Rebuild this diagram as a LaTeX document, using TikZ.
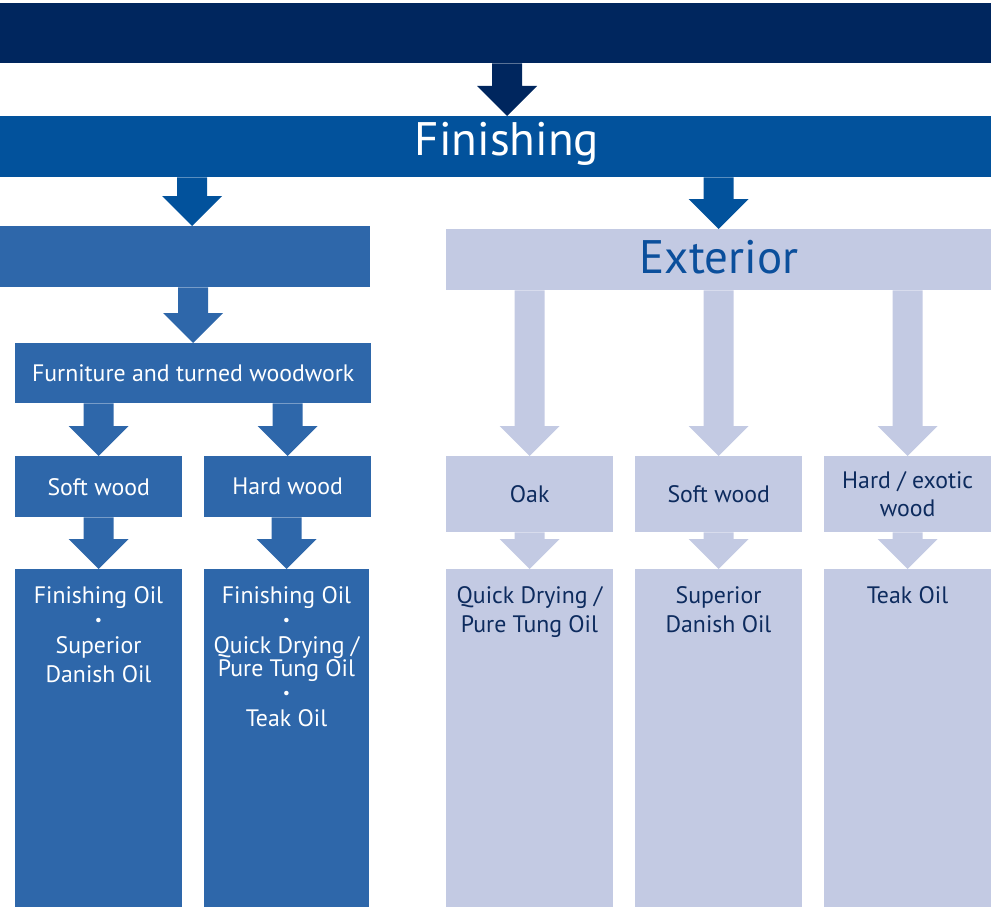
\documentclass[tikz,border=0pt]{standalone}
\usepackage{fontspec}
\setmainfont{PT Sans}
\usetikzlibrary{calc}
\definecolor{navy}{HTML}{00265E}
\definecolor{finblue}{HTML}{02529C}
\definecolor{midblue}{HTML}{2E67AA}
\definecolor{light}{HTML}{C3CAE3}
\definecolor{exttext}{HTML}{0B4F9C}
\definecolor{darktext}{HTML}{0D2B5E}
\tikzset{
  box/.style={rectangle, inner sep=0pt, anchor=north west, align=center, font=\fontsize{23.8}{28}\selectfont},
  leftbox/.style={box, fill=midblue, text=white},
  rightbox/.style={box, fill=light, text=darktext},
  oiltext/.style={anchor=base, inner sep=0pt, font=\fontsize{23.8}{24}\selectfont},
  bul/.style={anchor=center, inner sep=0pt, font=\fontsize{16}{16}\selectfont},
  bigtext/.style={anchor=base, inner sep=0pt, font=\fontsize{47}{50}\selectfont},
}
% #1 x offset, #2 colour, #3 parent, #4 child
\newcommand\fatarrow[4][0pt]{%
  \fill[#2] let \p1=(#3.south), \p2=(#4.north) in
    (\x2+#1-15pt,\y1) -- (\x2+#1+15pt,\y1) -- (\x2+#1+15pt,\y2+30pt)
    -- (\x2+#1+30pt,\y2+30pt) -- (\x2+#1,\y2) -- (\x2+#1-30pt,\y2+30pt)
    -- (\x2+#1-15pt,\y2+30pt) -- cycle;}
\begin{document}
\begin{tikzpicture}[x=1pt,y=-1pt]
\useasboundingbox (0,0) rectangle (991,907);
% bars
\node[box, fill=navy, minimum width=991pt, minimum height=60pt] (top) at (0,3) {};
\node[box, fill=finblue, minimum width=991pt, minimum height=61pt] (fin) at (0,116) {};
\node[bigtext, text=white] (fintxt) at (507,155) {Finishing};
% second level
\node[leftbox, minimum width=370pt, minimum height=61pt] (int) at (0,226) {};
\node[rightbox, minimum width=545pt, minimum height=61pt] (ext) at (446,229) {};
\node[bigtext, text=exttext] (exttxt) at (719,273) {Exterior};
% left column
\node[leftbox, minimum width=356pt, minimum height=60pt] (furn) at (15,343) {Furniture and turned woodwork};
\node[leftbox, minimum width=167pt, minimum height=61pt] (soft) at (15,456) {Soft wood};
\node[leftbox, minimum width=167pt, minimum height=61pt] (hard) at (204,456) {Hard wood};
\node[leftbox, minimum width=167pt, minimum height=338pt] (oilL) at (15,569) {};
\node[leftbox, minimum width=165pt, minimum height=338pt] (oilH) at (204,569) {};
% right column
\node[rightbox, minimum width=167pt, minimum height=76pt] (oak) at (446,456) {Oak};
\node[rightbox, minimum width=167pt, minimum height=76pt] (esoft) at (635,456) {Soft wood};
\node[rightbox, minimum width=167pt, minimum height=76pt] (ehard) at (824,456) {Hard / exotic\\wood};
\node[rightbox, minimum width=167pt, minimum height=338pt] (eoilA) at (446,569) {};
\node[rightbox, minimum width=167pt, minimum height=338pt] (eoilB) at (635,569) {};
\node[rightbox, minimum width=167pt, minimum height=338pt] (eoilC) at (824,569) {};
% oil texts, left
\begin{scope}[text=white]
\node[oiltext] (l1) at (98.5,603) {Finishing Oil};
\node[bul] (lb1) at (98.5,622) {•};
\node[oiltext] (l2) at (98.5,653) {Superior};
\node[oiltext] (l3) at (98.5,682) {Danish Oil};
\node[oiltext] (h1) at (286.5,603) {Finishing Oil};
\node[bul] (hb1) at (286.5,622) {•};
\node[oiltext] (h2) at (286.5,653) {Quick Drying /};
\node[oiltext] (h3) at (286.5,676) {Pure Tung Oil};
\node[bul] (hb2) at (286.5,695) {•};
\node[oiltext] (h4) at (286.5,726) {Teak Oil};
\end{scope}
% oil texts, right
\begin{scope}[text=darktext]
\node[oiltext] (a1) at (529.5,603) {Quick Drying /};
\node[oiltext] (a2) at (529.5,632) {Pure Tung Oil};
\node[oiltext] (b1) at (718.5,603) {Superior};
\node[oiltext] (b2) at (718.5,632) {Danish Oil};
\node[oiltext] (c1) at (907.5,603) {Teak Oil};
\end{scope}
% arrows
\fatarrow[11.5pt]{navy}{top}{fin}
\fatarrow[7pt]{finblue}{fin}{int}
\fatarrow{finblue}{fin}{ext}
\fatarrow{midblue}{int}{furn}
\fatarrow{midblue}{furn}{soft}
\fatarrow{midblue}{furn}{hard}
\fatarrow{midblue}{soft}{oilL}
\fatarrow{midblue}{hard}{oilH}
\fatarrow{light}{ext}{oak}
\fatarrow{light}{ext}{esoft}
\fatarrow{light}{ext}{ehard}
\fatarrow{light}{oak}{eoilA}
\fatarrow{light}{esoft}{eoilB}
\fatarrow{light}{ehard}{eoilC}
\end{tikzpicture}
\end{document}
